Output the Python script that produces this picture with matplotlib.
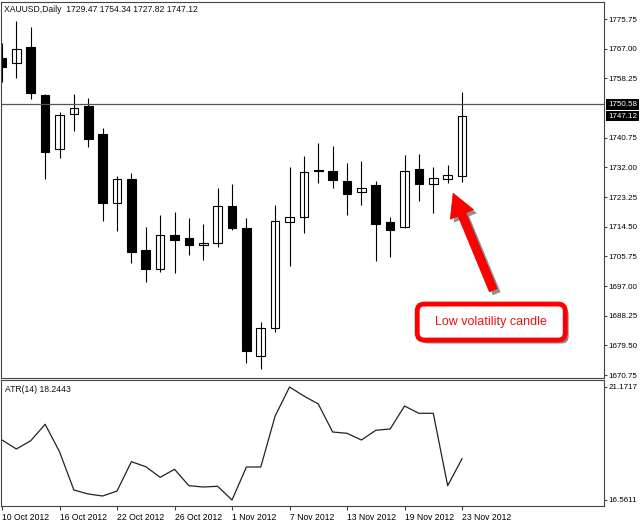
import numpy as np
import matplotlib.pyplot as plt
import matplotlib.patheffects as pe
from matplotlib.patches import Rectangle, FancyBboxPatch
from matplotlib.transforms import IdentityTransform

# daily XAUUSD candles, 10 Oct 2012 .. 23 Nov 2012
opens = [1764.35, 1762.70, 1767.51, 1753.35, 1737.33, 1747.65, 1750.10, 1741.75, 1721.40,
         1728.57, 1707.62, 1701.93, 1712.14, 1711.07, 1709.01, 1709.60, 1720.60, 1714.20,
         1676.27, 1684.53, 1715.79, 1717.27, 1731.20, 1730.93, 1728.07, 1724.64, 1726.80,
         1715.97, 1714.32, 1731.52, 1727.00, 1728.48, 1729.47]
highs = [1768.69, 1775.17, 1773.49, 1753.64, 1748.24, 1753.64, 1752.37, 1743.61, 1729.54,
         1730.43, 1714.50, 1717.95, 1718.83, 1717.15, 1715.29, 1725.82, 1727.00, 1716.97,
         1686.30, 1720.90, 1732.20, 1735.35, 1739.10, 1738.30, 1733.20, 1733.88, 1728.07,
         1717.45, 1735.65, 1735.94, 1732.02, 1732.70, 1754.34]
lows = [1757.18, 1758.45, 1752.08, 1728.48, 1734.85, 1742.82, 1738.10, 1716.27, 1713.32,
        1703.70, 1698.27, 1701.22, 1700.75, 1706.15, 1704.76, 1708.60, 1713.52, 1674.38,
        1672.43, 1683.52, 1702.90, 1712.73, 1727.30, 1725.82, 1717.95, 1720.81, 1704.47,
        1705.65, 1714.02, 1722.17, 1718.63, 1727.30, 1727.82]
closes = [1761.52, 1766.92, 1753.85, 1736.44, 1747.53, 1749.42, 1740.46, 1721.58, 1728.57,
          1707.12, 1701.93, 1712.05, 1710.66, 1709.10, 1709.69, 1720.51, 1714.02, 1677.92,
          1684.61, 1716.18, 1717.27, 1730.72, 1731.00, 1728.27, 1724.29, 1726.00, 1715.29,
          1713.52, 1731.02, 1727.18, 1728.77, 1729.75, 1747.12]

# ATR(14)
atr = [19.009, 18.642, 18.980, 19.650, 18.532, 16.969, 16.806, 16.724, 16.928, 18.124,
       17.920, 17.487, 17.814, 17.145, 17.091, 17.120, 16.5611, 17.907, 17.907, 19.988,
       21.1717, 20.804, 20.478, 19.335, 19.282, 19.009, 19.405, 19.458, 20.396, 20.098,
       20.098, 17.145, 18.2443]

date_labels = ['10 Oct 2012', '16 Oct 2012', '22 Oct 2012', '26 Oct 2012', '1 Nov 2012',
               '7 Nov 2012', '13 Nov 2012', '19 Nov 2012', '23 Nov 2012']
date_idx = [0, 4, 8, 12, 16, 20, 24, 28, 32]

line_price = 1750.58
last_price = 1747.12
atr_max = 21.1717
atr_min = 16.5611

plt.rcParams['font.family'] = ['Liberation Sans', 'DejaVu Sans']
fs = 6.2
fs_r = 5.8   # right-hand scale, has to fit in the 35px margin
frame = '#444444'

fig = plt.figure(figsize=(6.4, 5.21), dpi=100)
ax = fig.add_axes([1/640, 1 - 378/521, 603/640, 376/521])
ax2 = fig.add_axes([1/640, 1 - 506/521, 603/640, 126/521])

# candles
w = 0.6
for i in range(len(opens)):
    o, h, l, c = opens[i], highs[i], lows[i], closes[i]
    ax.vlines(i, l, h, color='black', lw=0.8)
    fc = 'black' if c < o else 'white'
    ax.add_patch(Rectangle((i - w/2, min(o, c)), w, max(abs(c - o), 0.05),
                           fc=fc, ec='black', lw=0.8))

ax.axhline(line_price, color='#555555', lw=0.9)
ax.set_xlim(-0.07, 41.875)
ax.set_ylim(1669.9, 1780.8)
ax.set_xticks([])

ticks = [1670.75 + 8.75*k for k in range(13)]
ticks = [t for t in ticks if abs(t - line_price) > 3]
ax.yaxis.tick_right()
ax.set_yticks(ticks)
ax.set_yticklabels(['%.2f' % t for t in ticks])
ax.tick_params(axis='y', direction='out', length=2, pad=1.5, labelsize=fs_r, color=frame)

for p in [line_price, last_price]:
    ax.annotate('%.2f' % p, xy=(1, p), xycoords=('axes fraction', 'data'),
                xytext=(4, 0), textcoords='offset pixels', ha='left', va='center',
                color='white', fontsize=fs_r, annotation_clip=False,
                bbox=dict(fc='black', ec='none', pad=1.2))

ax.annotate('XAUUSD,Daily  1729.47 1754.34 1727.82 1747.12', xy=(0, 1),
            xycoords='axes fraction', xytext=(3, -3), textcoords='offset pixels',
            va='top', ha='left', fontsize=fs, color='#111111')

# ATR panel
ax2.plot(range(len(atr)), atr, color='#222222', lw=0.9)
ax2.set_xlim(-0.07, 41.875)
ax2.set_ylim(16.316, 21.457)
ax2.yaxis.tick_right()
ax2.set_yticks([atr_min, atr_max])
ax2.set_yticklabels(['%.4f' % atr_min, '%.4f' % atr_max])
ax2.tick_params(axis='y', direction='out', length=2, pad=1.5, labelsize=fs_r, color=frame)
ax2.set_xticks(date_idx)
ax2.set_xticklabels(date_labels)
for lbl in ax2.get_xticklabels():
    lbl.set_ha('left')
ax2.tick_params(axis='x', direction='out', length=3, pad=2, labelsize=fs, color=frame)
ax2.annotate('ATR(14) 18.2443', xy=(0, 1), xycoords='axes fraction', xytext=(4, -5),
             textcoords='offset pixels', va='top', ha='left', fontsize=fs, color='#111111')

for a in [ax, ax2]:
    for s in a.spines.values():
        s.set_color(frame)
        s.set_linewidth(0.8)

# annotation: arrow + box
shadow = [pe.SimplePatchShadow(offset=(2.5, -2.5), shadow_rgbFace='#444444', alpha=0.6),
          pe.Normal()]
ax.annotate('', xy=(31.38, 1724.4), xytext=(34.17, 1695.8),
            arrowprops=dict(arrowstyle='simple,head_length=1.1,head_width=1.2,tail_width=0.4',
                            mutation_scale=15, fc='#ff0000', ec='#e00000', lw=0.5,
                            shrinkA=0, shrinkB=0, path_effects=shadow))

bx, by = ax.transData.transform((34.03, 1686.4))
box = FancyBboxPatch((bx - 74, by - 18), 148, 36, boxstyle='round,pad=0,rounding_size=7',
                     transform=IdentityTransform(), fc='white', ec='#ff0000', lw=3.5,
                     clip_on=False, path_effects=shadow)
ax.add_patch(box)
ax.text(34.03, 1686.4, 'Low volatility candle', ha='center', va='center',
        color='#ee1111', fontsize=9)

fig.savefig('out.png', dpi=100)
